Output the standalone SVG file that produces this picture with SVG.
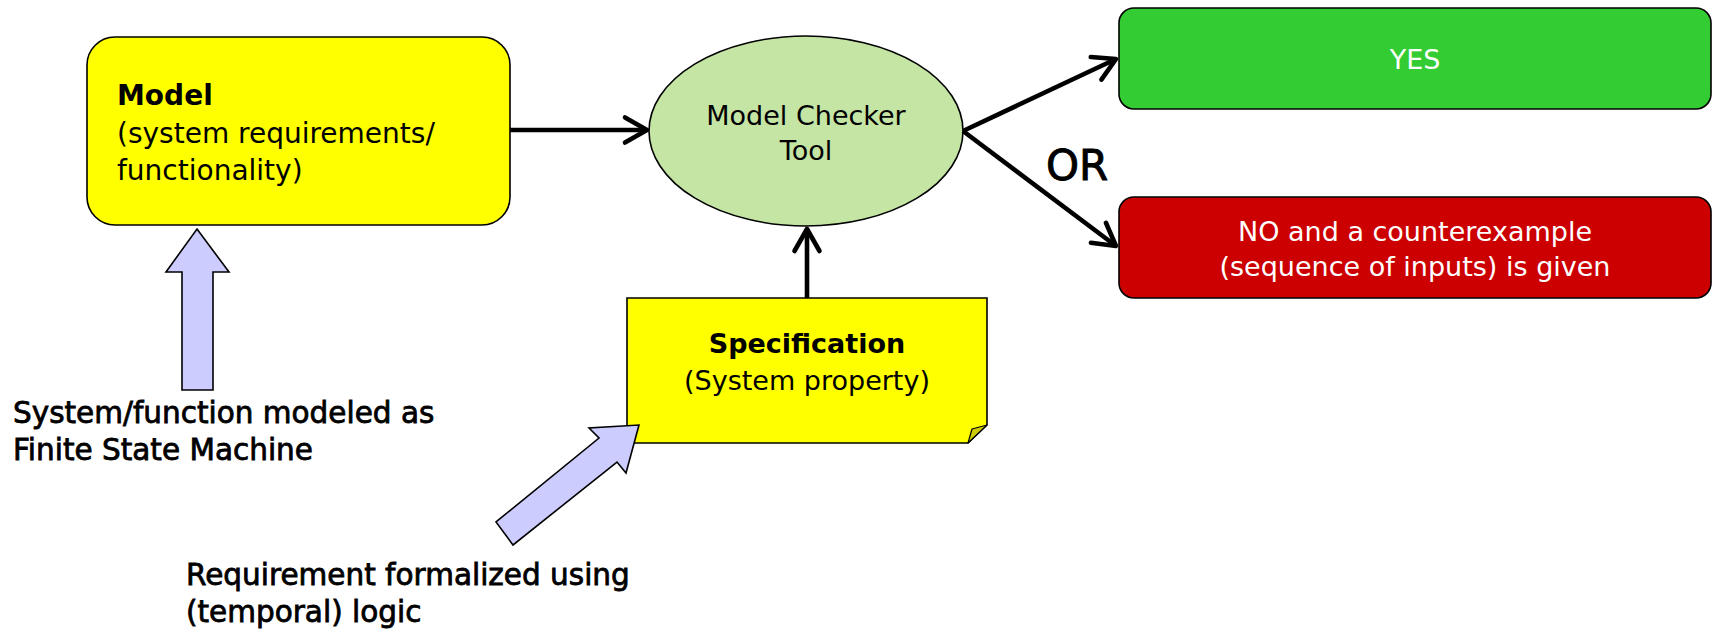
<svg xmlns="http://www.w3.org/2000/svg" width="1718" height="630" viewBox="0 0 1718 630">
  <style>
    text { font-family: "DejaVu Sans", "Liberation Sans", sans-serif; fill: #000; }
    .box { stroke: #000; stroke-width: 1.6; }
    .lbl { font-size: 27px; }
    .mid { text-anchor: middle; }
    .white { fill: #fff; }
    .bold { font-weight: bold; }
    .note { font-size: 29.5px; stroke: #000; stroke-width: 0.8px; }
    .conn { stroke: #000; stroke-width: 4.6; fill: none; marker-end: url(#chev); }
    .fat { fill: #ccccff; stroke: #000; stroke-width: 1.6; stroke-linejoin: miter; }
  </style>
  <defs>
    <marker id="chev" markerUnits="userSpaceOnUse" orient="auto" overflow="visible" markerWidth="1" markerHeight="1" refX="0" refY="0">
      <path d="M-22,-12.5 L0,0 L-22,12.5" fill="none" stroke="#000" stroke-width="4.6" stroke-linecap="round" stroke-linejoin="round"/>
    </marker>
  </defs>

  <rect width="1718" height="630" fill="#fff"/>

  <!-- model -->
  <g id="model">
    <rect class="box" x="87" y="37" width="423" height="188" rx="28" ry="28" fill="#ffff00"/>
    <text x="117" y="105" font-size="28" class="bold">Model</text>
    <text x="117" y="143" font-size="28">(system requirements/</text>
    <text x="117" y="180" font-size="28">functionality)</text>
  </g>

  <!-- checker -->
  <g id="checker">
    <ellipse class="box" cx="806" cy="131" rx="157" ry="95" fill="#c5e5a5"/>
    <text class="lbl mid" x="806" y="125">Model Checker</text>
    <text class="lbl mid" x="806" y="160">Tool</text>
  </g>

  <!-- yes result -->
  <g id="yes">
    <rect class="box" x="1119" y="8" width="592" height="101" rx="15" ry="15" fill="#33cc33"/>
    <text class="lbl mid white" x="1415" y="69">YES</text>
  </g>

  <!-- no result -->
  <g id="no">
    <rect class="box" x="1119" y="197" width="592" height="101" rx="15" ry="15" fill="#cc0000"/>
    <text class="lbl mid white" x="1415" y="241">NO and a counterexample</text>
    <text class="lbl mid white" x="1415" y="276">(sequence of inputs) is given</text>
  </g>

  <!-- or label -->
  <g id="or">
    <text x="1046" y="180" font-size="42" stroke="#000" stroke-width="0.9">OR</text>
  </g>

  <!-- specification note -->
  <g id="spec">
    <path class="box" d="M627,298 H987 V425 L968,443 H627 Z" fill="#ffff00"/>
    <path d="M987,425 L968,443 L972,429 Z" fill="#cccc00" stroke="#000" stroke-width="1.2" stroke-linejoin="round"/>
    <text class="lbl mid bold" x="807" y="353">Specification</text>
    <text class="lbl mid" x="807" y="390">(System property)</text>
  </g>

  <!-- connectors -->
  <g id="connectors">
    <line class="conn" x1="510" y1="130" x2="647" y2="130"/>
    <line class="conn" x1="807" y1="298" x2="807" y2="229"/>
    <line class="conn" x1="963" y1="131" x2="1116" y2="59"/>
    <line class="conn" x1="963" y1="131" x2="1116" y2="246"/>
  </g>

  <!-- FSM input arrow -->
  <g id="fsm-arrow">
    <path class="fat" d="M197,229 L229,272 L213,272 L213,390 L182,390 L182,272 L166,272 Z"/>
    <text class="note" x="13" y="423">System/function modeled as</text>
    <text class="note" x="13" y="460">Finite State Machine</text>
  </g>

  <!-- logic input arrow -->
  <g id="logic-arrow">
    <path class="fat" d="M639,425 L626,473 L617,462 L513,545 L496,522 L599,438 L589,428 Z"/>
    <text class="note" x="186" y="585">Requirement formalized using</text>
    <text class="note" x="186" y="622">(temporal) logic</text>
  </g>
</svg>
